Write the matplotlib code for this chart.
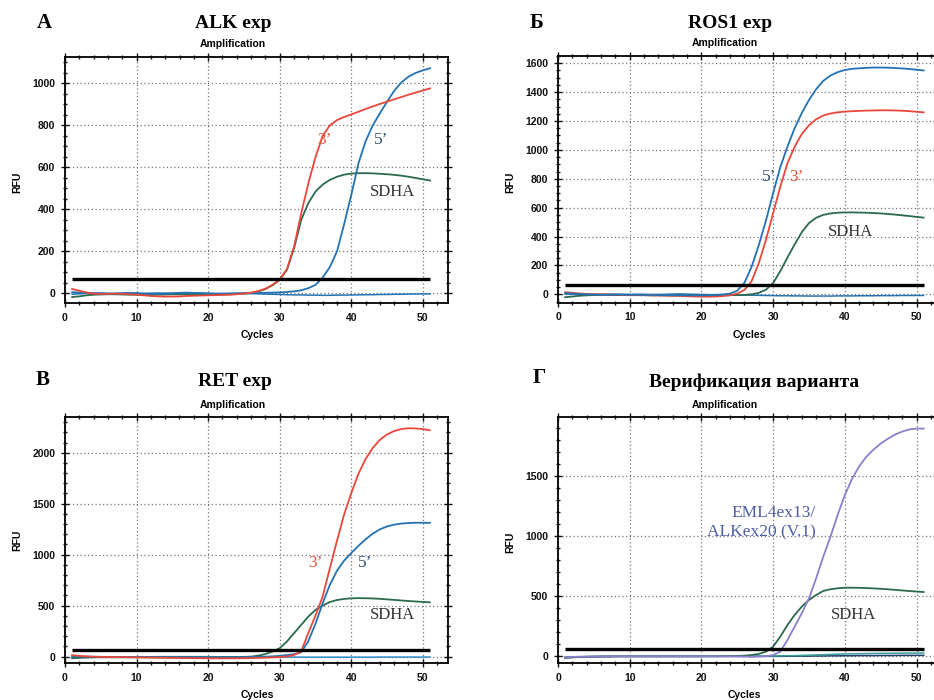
import numpy as np
import matplotlib.pyplot as plt
from matplotlib.ticker import MultipleLocator

# Cycle numbers shared by every run
cycles = np.arange(1, 52)

# --- ALK expression ---
alk_3 = [20, 12, 4, -2, -4, -3, -2, -3, -5, -7,
         -10, -13, -15, -16, -16, -15, -13, -12, -11, -10,
         -9, -8, -7, -5, -2, 3, 10, 22, 40, 66,
         115, 222, 381, 525, 650, 750, 800, 825, 840, 852,
         865, 878, 890, 902, 913, 924, 935, 946, 956, 966, 976]
alk_5 = [5, 3, 2, 0, -2, -3, -2, 0, 1, 0,
         -2, -3, -3, -2, 0, 2, 3, 1, -1, -2,
         -3, -2, -1, 0, 0, 1, 1, 2, 3, 4,
         6, 9, 14, 24, 40, 75, 125, 200, 330, 470,
         620, 725, 800, 858, 913, 965, 1005, 1032, 1050, 1062, 1072]
alk_sdha = [-18, -15, -10, -7, -6, -5, -5, -6, -7, -7,
            -8, -8, -7, -6, -5, -5, -6, -7, -8, -8,
            -7, -6, -5, -4, -2, 2, 8, 20, 38, 64,
            112, 215, 350, 430, 485, 518, 540, 555, 565, 570,
            572, 572, 571, 569, 567, 564, 560, 555, 549, 543, 537]
alk_neg = [-5, -3, -1, 0, 1, 0, -1, 0, 1, 0,
           -1, 0, 1, 0, -1, 0, 1, 2, 1, 0,
           -1, -2, -2, -1, -1, -2, -3, -4, -5, -6,
           -7, -8, -8, -9, -9, -10, -10, -9, -9, -8,
           -8, -7, -7, -6, -6, -5, -5, -4, -4, -3, -3]

# --- ROS1 expression ---
ros_5 = [8, 5, 2, 0, -2, -3, -3, -2, -2, -3,
         -3, -4, -4, -5, -5, -6, -6, -7, -7, -7,
         -6, -4, -1, 5, 25, 80, 190, 340, 510, 700,
         880, 1022, 1150, 1255, 1345, 1420, 1478, 1515, 1538, 1553,
         1561, 1565, 1568, 1570, 1570, 1569, 1567, 1564, 1560, 1555, 1550]
ros_3 = [15, 10, 6, 3, 1, 0, -1, -2, -3, -4,
         -5, -6, -7, -8, -9, -10, -11, -13, -15, -16,
         -16, -15, -12, -6, 5, 30, 90, 215, 376, 561,
         745, 907, 1022, 1110, 1170, 1212, 1238, 1252, 1260, 1265,
         1268, 1270, 1272, 1273, 1274, 1274, 1273, 1271, 1268, 1264, 1260]
ros_sdha = [-20, -15, -10, -7, -5, -4, -4, -5, -5, -6,
            -6, -6, -7, -7, -7, -8, -8, -8, -8, -8,
            -8, -7, -7, -6, -5, -4, 0, 10, 32, 78,
            160, 255, 345, 430, 493, 530, 550, 560, 565, 567,
            567, 566, 565, 563, 560, 556, 552, 547, 542, 536, 531]
ros_neg = [2, 1, 0, 0, -1, -1, 0, 0, -1, -1,
           0, 0, -1, -1, 0, 2, 3, 1, 0, -1,
           -2, -2, -3, -3, -4, -5, -6, -7, -8, -9,
           -10, -10, -11, -11, -12, -12, -12, -12, -11, -11,
           -11, -10, -10, -10, -9, -9, -9, -8, -8, -8, -8]

# --- RET expression ---
ret_3 = [15, 8, 3, 0, -2, -3, -4, -5, -6, -7,
         -8, -9, -10, -11, -12, -13, -14, -15, -15, -16,
         -16, -16, -16, -16, -15, -14, -12, -10, -7, -4,
         2, 16, 49, 229, 400, 585, 860, 1130, 1390, 1600,
         1790, 1935, 2045, 2125, 2178, 2212, 2232, 2240, 2238, 2232, 2220]
ret_5 = [5, 2, 0, -1, -2, -2, -3, -3, -3, -4,
         -4, -4, -5, -5, -5, -5, -6, -6, -6, -6,
         -6, -6, -5, -5, -4, -3, -2, 0, 3, 8,
         15, 24, 42, 150, 320, 520, 700, 840, 940, 1015,
         1085, 1150, 1205, 1248, 1276, 1294, 1305, 1310, 1313, 1313, 1312]
ret_sdha = [-15, -12, -9, -7, -6, -6, -6, -6, -6, -6,
            -6, -6, -6, -6, -6, -6, -6, -6, -6, -6,
            -5, -5, -4, -3, -2, 0, 10, 25, 50, 82,
            147, 229, 310, 392, 458, 500, 535, 555, 566, 572,
            574, 573, 571, 567, 562, 557, 551, 546, 541, 537, 533]
ret_neg = [-8, -6, -4, -3, -2, -2, -1, -1, -1, -1,
           -1, -1, 0, 0, 0, 0, 0, 0, 0, 0,
           -1, -1, -1, -2, -2, -2, -3, -3, -3, -4,
           -4, -4, -5, -5, -5, -5, -5, -5, -5, -5,
           -5, -5, -5, -4, -4, -4, -4, -4, -4, -4, -4]

# --- Variant verification ---
ver_eml = [-10, -8, -6, -5, -4, -3, -3, -2, -2, -2,
           -2, -2, -2, -2, -2, -2, -2, -2, -2, -2,
           -2, -2, -3, -3, -4, -5, -6, -5, -2, 8,
           36, 133, 244, 356, 480, 647, 828, 994, 1175, 1340,
           1475, 1580, 1660, 1720, 1770, 1810, 1845, 1870, 1888, 1895, 1895]
ver_sdha = [-15, -12, -9, -7, -6, -5, -5, -4, -4, -4,
            -4, -4, -4, -4, -4, -4, -4, -4, -4, -4,
            -3, -3, -2, -1, 0, 3, 8, 17, 36, 78,
            161, 258, 342, 411, 467, 508, 542, 556, 564, 569,
            569, 568, 566, 563, 560, 556, 551, 546, 541, 537, 533]
ver_neg1 = [-12, -9, -7, -5, -4, -3, -3, -2, -2, -2,
            -2, -1, -1, -1, -1, -1, -1, -1, -1, -1,
            -1, -1, -1, -1, -1, -1, 0, 0, 0, 0,
            1, 2, 3, 5, 7, 9, 11, 13, 15, 17,
            18, 19, 20, 21, 22, 22, 23, 23, 24, 24, 24]
ver_neg2 = [-14, -11, -9, -7, -6, -5, -4, -4, -3, -3,
            -3, -3, -3, -3, -3, -3, -3, -3, -3, -3,
            -3, -3, -3, -3, -3, -3, -3, -3, -3, -3,
            -3, -2, -2, -1, -1, 0, 0, 1, 1, 2,
            2, 3, 3, 3, 4, 4, 4, 5, 5, 5, 5]

thresholds = {'alk': 67, 'ros': 63, 'ret': 66, 'ver': 60}

RED = '#e8473a'
BLUE = '#2372b4'
GREEN = '#2b6a4c'
PURPLE = '#8a7fcc'
TEAL = '#3b9c9a'
NAVY = '#1f3f6c'

W, H = 934, 700
fig = plt.figure(figsize=(W / 100, H / 100), dpi=100)

SERIF = 'Liberation Serif'
SANS = 'Liberation Sans'


def px_axes(x0, y0, x1, y1):
    # axes box given in pixel corners (top-left origin)
    return fig.add_axes([x0 / W, 1 - y1 / H, (x1 - x0) / W, (y1 - y0) / H])


def ftext(x, y, s, **kw):
    fig.text(x / W, 1 - y / H, s, ha='center', va='center', **kw)


def setup(ax, ylim, ymajor, yminor, thr):
    ax.set_xlim(0, 53.5)
    ax.set_ylim(*ylim)
    ax.xaxis.set_major_locator(MultipleLocator(10))
    ax.xaxis.set_minor_locator(MultipleLocator(2))
    ax.yaxis.set_major_locator(MultipleLocator(ymajor))
    ax.yaxis.set_minor_locator(MultipleLocator(yminor))
    ax.tick_params(which='both', direction='inout', top=True, right=True,
                   width=1.0, colors='#111')
    ax.tick_params(which='major', length=6, pad=4, labelsize=7.5)
    ax.tick_params(which='minor', length=3.5)
    for lab in ax.get_xticklabels() + ax.get_yticklabels():
        lab.set_fontfamily(SANS)
        lab.set_fontweight('bold')
    for sp in ax.spines.values():
        sp.set_linewidth(1.3)
    ax.grid(True, which='major', color='#777', linestyle=(0, (1, 2)), linewidth=0.9)
    ax.set_axisbelow(True)
    ax.hlines(thr, 1, 51, color='black', linewidth=2.4, zorder=4)


# Panel A: ALK
ax = px_axes(65, 56.7, 448, 303.3)
setup(ax, (-48, 1127), 200, 50, thresholds['alk'])
ax.plot(cycles, alk_neg, color=BLUE, lw=1.1)
ax.plot(cycles, alk_sdha, color=GREEN, lw=1.3)
ax.plot(cycles, alk_5, color=BLUE, lw=1.3)
ax.plot(cycles, alk_3, color=RED, lw=1.3)
ax.text(36.3, 730, '3’', color='#e2553f', fontsize=12.5, family=SERIF, ha='center', va='center')
ax.text(44.1, 730, '5’', color='#2f4d6c', fontsize=12.5, family=SERIF, ha='center', va='center')
ax.text(45.8, 482, 'SDHA', color='#333', fontsize=12, family=SERIF, ha='center', va='center')

# Panel B: ROS1
ax = px_axes(558, 56, 941.6, 302.7)
setup(ax, (-58, 1650), 200, 50, thresholds['ros'])
ax.plot(cycles, ros_neg, color=BLUE, lw=1.1)
ax.plot(cycles, ros_sdha, color=GREEN, lw=1.3)
ax.plot(cycles, ros_3, color=RED, lw=1.3)
ax.plot(cycles, ros_5, color=BLUE, lw=1.3)
ax.text(29.4, 815, '5’', color='#2f4d6c', fontsize=12.5, family=SERIF, ha='center', va='center')
ax.text(33.3, 815, '3’', color='#e2553f', fontsize=12.5, family=SERIF, ha='center', va='center')
ax.text(40.8, 429, 'SDHA', color='#333', fontsize=12, family=SERIF, ha='center', va='center')

# Panel C: RET
ax = px_axes(65, 416.7, 447.7, 663.3)
setup(ax, (-65, 2353), 500, 100, thresholds['ret'])
ax.plot(cycles, ret_neg, color='#2a8ac8', lw=1.1)
ax.plot(cycles, ret_sdha, color=GREEN, lw=1.3)
ax.plot(cycles, ret_5, color=BLUE, lw=1.3)
ax.plot(cycles, ret_3, color=RED, lw=1.3)
ax.text(35.0, 915, '3’', color='#e2553f', fontsize=12.5, family=SERIF, ha='center', va='center')
ax.text(41.9, 915, '5’', color='#2f4d6c', fontsize=12.5, family=SERIF, ha='center', va='center')
ax.text(45.8, 409, 'SDHA', color='#333', fontsize=12, family=SERIF, ha='center', va='center')

# Panel D: fusion variant check
ax = px_axes(558, 416.7, 941.6, 663.3)
setup(ax, (-61, 1994), 500, 100, thresholds['ver'])
ax.plot(cycles, ver_neg2, color=NAVY, lw=1.1)
ax.plot(cycles, ver_neg1, color=TEAL, lw=1.1)
ax.plot(cycles, ver_sdha, color=GREEN, lw=1.3)
ax.plot(cycles, ver_eml, color=PURPLE, lw=1.3)
ax.text(35.9, 1110, 'EML4ex13/\nALKex20 (V.1)', color='#4f5ea2', fontsize=12.5,
        family=SERIF, ha='right', va='center', multialignment='right', linespacing=1.3)
ax.text(41.2, 342, 'SDHA', color='#333', fontsize=12, family=SERIF, ha='center', va='center')

# Panel letters and headings
for x, y, s in [(44, 23, 'А'), (537, 23, 'Б'), (43, 380, 'В'), (539, 378, 'Г')]:
    ftext(x, y, s, fontsize=15, fontweight='bold', family=SERIF)
for x, y, s in [(233, 23, 'ALK exp'), (730, 23, 'ROS1 exp'),
                (235, 382, 'RET exp'), (754, 382, 'Верификация варианта')]:
    ftext(x, y, s, fontsize=14, fontweight='bold', family=SERIF)
for x, y in [(233, 44), (725, 43), (233, 405), (725, 405)]:
    ftext(x, y, 'Amplification', fontsize=7.5, fontweight='bold', family=SANS)
for x, y in [(257, 335), (749, 335), (257, 695), (744, 695)]:
    ftext(x, y, 'Cycles', fontsize=7.5, fontweight='bold', family=SANS)
for x, y in [(17, 182), (510, 182), (17, 540), (510, 542)]:
    ftext(x, y, 'RFU', fontsize=7.5, fontweight='bold', family=SANS, rotation=90)

fig.savefig('out.png', dpi=100)
